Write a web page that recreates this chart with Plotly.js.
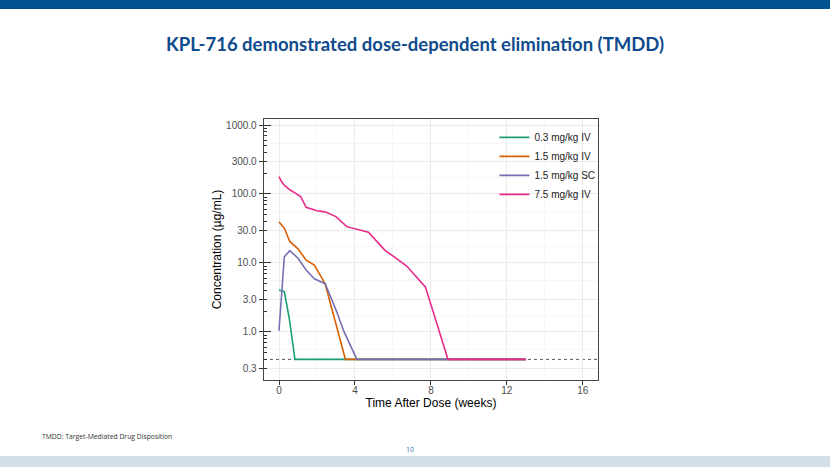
<!DOCTYPE html>
<html>
<head>
<meta charset="utf-8">
<script src="https://cdn.plot.ly/plotly-3.0.1.min.js"></script>
<style>
html,body{margin:0;padding:0;background:#fff;}
#chart{width:830px;height:467px;}
</style>
</head>
<body>
<div id="chart"></div>
<script>
// ---- data ----
const seriesNames = ["0.3 mg/kg IV", "1.5 mg/kg IV", "1.5 mg/kg SC", "7.5 mg/kg IV"];
const seriesColors = ["#1b9e77", "#d95f02", "#7570b3", "#e7298a"];

const weeks_03iv = [0, 0.28, 0.54, 0.84, 13];
const conc_03iv  = [4.06, 3.84, 1.58, 0.4, 0.4];

const weeks_15iv = [0, 0.28, 0.57, 1.0, 1.43, 1.86, 2.43, 3.5, 13];
const conc_15iv  = [39.7, 31.8, 20.5, 16.0, 11.0, 9.3, 5.0, 0.4, 0.4];

const weeks_15sc = [0, 0.28, 0.57, 1.0, 1.43, 1.86, 2.43, 3.0, 3.43, 4.1, 13];
const conc_15sc  = [1.04, 12.3, 15.1, 11.7, 7.9, 5.9, 5.0, 2.1, 1.0, 0.4, 0.4];

const weeks_75iv = [0, 0.14, 0.29, 0.57, 0.86, 1.14, 1.43, 2.0, 2.43, 3.0, 3.57, 4.71, 5.57, 6.71, 7.71, 8.9, 13];
const conc_75iv  = [178, 150, 133, 115, 103, 92, 64, 57, 55, 47, 33.6, 27.9, 15.4, 9.1, 4.5, 0.4, 0.4];

const LLOQ = 0.4;

const yTickVals = [0.3, 1, 3, 10, 30, 100, 300, 1000];
const yTickText = ["0.3", "1.0", "3.0", "10.0", "30.0", "100.0", "300.0", "1000.0"];
const xTickVals = [0, 4, 8, 12, 16];

const titleText = "KPL-716 demonstrated dose-dependent elimination (TMDD)";
const xTitle = "Time After Dose (weeks)";
const yTitle = "Concentration (µg/mL)";
const footnote = "TMDD: Target-Mediated Drug Disposition";
const pageNum = "10";

// ---- derived helpers ----
const decades = [0.1, 1, 10, 100, 1000];
const minorTickVals = [];
decades.forEach(d => { for (let k = 2; k <= 9; k++) { const v = d * k; if (v > 0.2 && v < 1200) minorTickVals.push(v); } });
const midGrid = [];
for (let i = 0; i < yTickVals.length - 1; i++) midGrid.push(Math.sqrt(yTickVals[i] * yTickVals[i + 1]));

const yRange = [Math.log10(0.201), Math.log10(1222)];
const xRange = [-0.79, 16.8];

const xs = [weeks_03iv, weeks_15iv, weeks_15sc, weeks_75iv];
const ys = [conc_03iv, conc_15iv, conc_15sc, conc_75iv];

const traces = xs.map((x, i) => ({
  type: "scatter", mode: "lines", x: x, y: ys[i], name: seriesNames[i],
  line: {color: seriesColors[i], width: 1.6},
  yaxis: i === 3 ? "y2" : "y",
  hoverinfo: "skip"
}));

const font = "Liberation Sans, Arial, sans-serif";

const layout = {
  width: 830, height: 467,
  margin: {l: 264, r: 232, t: 119, b: 87},
  paper_bgcolor: "#ffffff", plot_bgcolor: "#ffffff",
  font: {family: font, size: 10, color: "#222"},
  showlegend: true,
  legend: {x: 0.69, y: 0.985, xanchor: "left", yanchor: "top", bgcolor: "rgba(0,0,0,0)",
           font: {family: font, size: 10, color: "#222"}, tracegroupgap: 0, itemwidth: 30},
  xaxis: {
    range: xRange, tickmode: "array", tickvals: xTickVals, ticktext: xTickVals.map(String),
    ticks: "outside", ticklen: 4, tickcolor: "#333", tickwidth: 1,
    ticklabelstandoff: -3,
    tickfont: {family: font, size: 10, color: "#4d4d4d"},
    showgrid: true, gridcolor: "#ebebeb", gridwidth: 1,
    minor: {dtick: 2, tick0: 0, showgrid: true, gridcolor: "#f3f3f3", gridwidth: 0.7, ticks: ""},
    showline: true, linecolor: "#444", linewidth: 1.3, mirror: true, zeroline: false,
    title: {text: xTitle, font: {family: font, size: 12, color: "#000"}, standoff: 2}
  },
  yaxis: {
    type: "log", range: yRange, tickmode: "array", tickvals: yTickVals, ticktext: yTickText,
    ticks: "outside", ticklen: 4, tickcolor: "#333", tickwidth: 1,
    tickfont: {family: font, size: 10, color: "#4d4d4d"},
    showgrid: true, gridcolor: "#ebebeb", gridwidth: 1,
    minor: {tickmode: "array", tickvals: midGrid, showgrid: true, gridcolor: "#f3f3f3", gridwidth: 0.7, ticks: ""},
    showline: true, linecolor: "#444", linewidth: 1.3, mirror: true, zeroline: false,
    title: {text: yTitle, font: {family: font, size: 12, color: "#000"}, standoff: 2}
  },
  yaxis2: {
    type: "log", range: yRange, overlaying: "y", side: "left",
    tickmode: "array", tickvals: decades, showticklabels: false,
    ticks: "inside", ticklen: 7, tickcolor: "#333", tickwidth: 1,
    minor: {tickmode: "array", tickvals: minorTickVals, ticks: "inside", ticklen: 3, tickcolor: "#333", tickwidth: 1, showgrid: false},
    showgrid: false, showline: false, zeroline: false
  },
  shapes: [
    {type: "line", xref: "paper", x0: 0, x1: 1, yref: "y", y0: LLOQ, y1: LLOQ,
     line: {color: "#555", width: 1, dash: "3px,3px"}, layer: "below"},
    {type: "rect", xref: "paper", yref: "paper", x0: -0.8, x1: 1.7, y0: 1.4215, y1: 1.46,
     fillcolor: "#00538f", line: {width: 0}, layer: "above"},
    {type: "rect", xref: "paper", yref: "paper", x0: -0.8, x1: 1.7, y0: -0.34, y1: -0.291,
     fillcolor: "#d5dfea", line: {width: 0}, layer: "above"}
  ],
  annotations: [
    {text: "<b>" + titleText + "</b>", xref: "paper", yref: "paper", x: 0.4535, y: 1.287,
     xanchor: "center", yanchor: "middle", showarrow: false,
     font: {family: "Lato, Open Sans, sans-serif", size: 18.5, color: "#0f4b8d"}},
    {text: footnote, xref: "paper", yref: "paper", x: (40 - 264) / 334, y: (380 - 436) / 261,
     xanchor: "left", yanchor: "middle", showarrow: false,
     font: {family: "Open Sans, sans-serif", size: 6.8, color: "#333"}},
    {text: pageNum, xref: "paper", yref: "paper", x: (410 - 264) / 334, y: (380 - 449) / 261,
     xanchor: "center", yanchor: "middle", showarrow: false,
     font: {family: "Open Sans, sans-serif", size: 7, color: "#3b6ea5"}}
  ]
};

Plotly.newPlot("chart", traces, layout, {displayModeBar: false, staticPlot: true});
</script>
</body>
</html>
